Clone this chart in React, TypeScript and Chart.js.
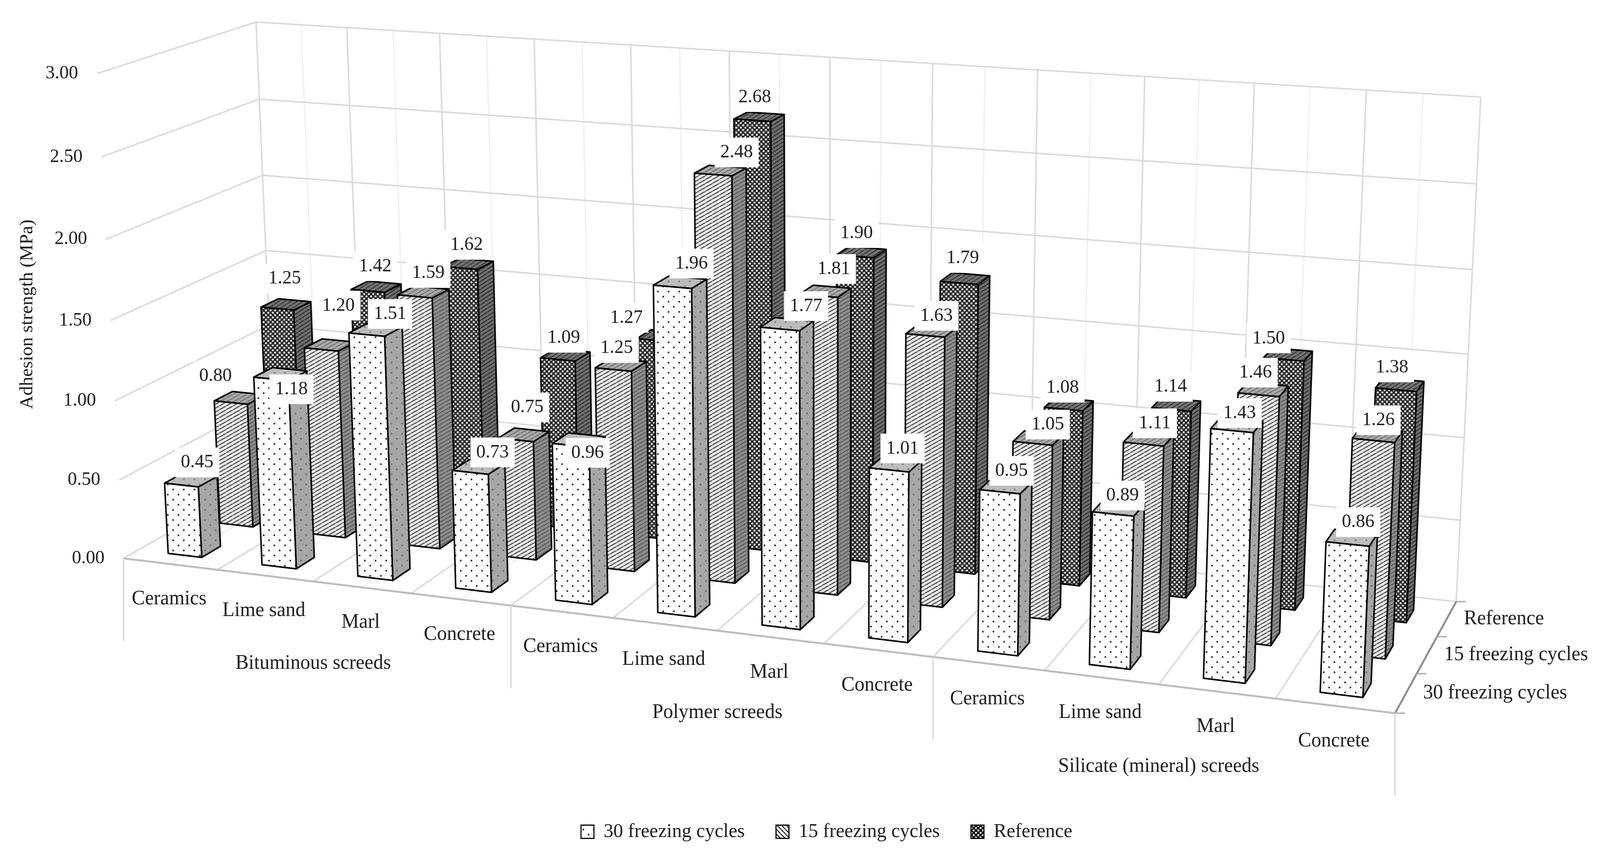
import React, { useEffect, useRef } from "react";
import { Chart, BarController, registerables } from "chart.js";

const materials = ["Ceramics", "Lime sand", "Marl", "Concrete"];
const groups = ["Bituminous screeds", "Polymer screeds", "Silicate (mineral) screeds"];
const seriesNames = ["30 freezing cycles", "15 freezing cycles", "Reference"];
const yTitle = "Adhesion strength (MPa)";
const cycles30 = [0.45, 1.18, 1.51, 0.73, 0.96, 1.96, 1.77, 1.01, 0.95, 0.89, 1.43, 0.86];
const cycles15 = [0.8, 1.2, 1.59, 0.75, 1.25, 2.48, 1.81, 1.63, 1.05, 1.11, 1.46, 1.26];
const reference = [1.25, 1.42, 1.62, 1.09, 1.27, 2.68, 1.9, 1.79, 1.08, 1.14, 1.5, 1.38];

const W = 4205, H = 2190;
const FONT = '"Liberation Serif"';
const INK = "#1c1c1c";

// label offsets from the top of each bar (the source chart's labels were hand-placed)
const nudge30 = [[10, 7], [23, 90], [32, 10], [31, 14], [18, 84], [25, 3], [45, 5], [14, 11], [11, 13], [7, 20], [4, 21], [14, 12]];
const nudge15 = [[-70, -5], [16, -50], [8, 2], [4, -19], [-16, 8], [38, 4], [18, -6], [9, 13], [21, 17], [13, 12], [-23, 8], [0, 14]];
const nudgeRef = [[-9, -16], [-8, -2], [-10, 2], [-9, 7], [-97, 5], [-16, 0], [-17, 2], [-10, -2], [-20, 9], [-18, 6], [-54, 10], [-23, 7]];

// camera fit: [u, d, v] on the unit box -> picture position
const fit: number[][] = [
  [0, 0, 0, 319, 1428], [0, 0, 1, 254, 190], [1, 0, 0, 3666, 1829], [0, 1, 1, 674, 57],
  [1, 1, 1, 3892, 250], [1, 1, 0, 3826, 1544], [0, 1, 0, 722, 1210], [0, 1, 0.5, 698, 639],
  [0, 0, 5 / 6, 265, 403], [1, 1, 5 / 6, 3879, 462], [1 / 12, 0, 0, 577, 1460], [2 / 12, 0, 0, 826, 1488],
  [3 / 12, 0, 0, 1081, 1518], [1 / 12, 1, 1, 913, 72], [11 / 12, 1, 1, 3592, 234],
];

function solveCamera(): number[] {
  const n = 11;
  const A = Array.from({ length: n }, () => new Array(n + 1).fill(0));
  const add = (row: number[], r: number) => {
    for (let i = 0; i < n; i++) {
      for (let j = 0; j < n; j++) A[i][j] += row[i] * row[j];
      A[i][n] += row[i] * r;
    }
  };
  for (const [u, d, v, px, py] of fit) {
    const x = px / 1000, y = py / 1000;
    add([u, d, v, 1, 0, 0, 0, 0, -x * u, -x * d, -x * v], x);
    add([0, 0, 0, 0, u, d, v, 1, -y * u, -y * d, -y * v], y);
  }
  for (let i = 0; i < n; i++) {
    let p = i;
    for (let r = i + 1; r < n; r++) if (Math.abs(A[r][i]) > Math.abs(A[p][i])) p = r;
    [A[i], A[p]] = [A[p], A[i]];
    for (let r = 0; r < n; r++) {
      if (r === i) continue;
      const f = A[r][i] / A[i][i];
      for (let c = i; c <= n; c++) A[r][c] -= f * A[i][c];
    }
  }
  return A.map((row, i) => row[n] / row[i]);
}
const M = solveCamera();
function proj(u: number, d: number, v: number): [number, number] {
  const w = M[8] * u + M[9] * d + M[10] * v + 1;
  return [
    (1000 * (M[0] * u + M[1] * d + M[2] * v + M[3])) / w,
    (1000 * (M[4] * u + M[5] * d + M[6] * v + M[7])) / w,
  ];
}

function tile(w: number, h: number, paint: (c: CanvasRenderingContext2D) => void): CanvasPattern {
  const cv = document.createElement("canvas");
  cv.width = w; cv.height = h;
  const c = cv.getContext("2d")!;
  paint(c);
  return c.createPattern(cv, "repeat")!;
}
function dots(bg: string, fg: string) {
  return tile(28, 26, (c) => {
    c.fillStyle = bg; c.fillRect(0, 0, 28, 26);
    c.fillStyle = fg;
    for (const [x, y] of [[7, 6], [21, 19]]) { c.beginPath(); c.arc(x, y, 2.4, 0, 7); c.fill(); }
  });
}
function hatch(bg: string, fg: string, w: number, h: number, lw: number, back = false) {
  return tile(w, h, (c) => {
    c.fillStyle = bg; c.fillRect(0, 0, w, h);
    c.strokeStyle = fg; c.lineWidth = lw;
    for (const ox of [-w, 0, w]) {
      c.beginPath();
      if (back) { c.moveTo(ox, 0); c.lineTo(ox + w, h); } else { c.moveTo(ox, h); c.lineTo(ox + w, 0); }
      c.stroke();
    }
  });
}
function checks(bg: string, fg: string) {
  return tile(12, 12, (c) => {
    c.fillStyle = bg; c.fillRect(0, 0, 12, 12);
    c.fillStyle = fg;
    for (const [x, y] of [[3, 3], [9, 9]]) { c.beginPath(); c.arc(x, y, 2.6, 0, 7); c.fill(); }
  });
}

class Bar3DController extends BarController {
  static id = "bar3d";
  static defaults = BarController.defaults;
  static overrides = BarController.overrides;
  draw() {
    const chart: any = this.chart;
    const meta: any = this.getMeta();
    const ds: any = this.getDataset();
    const area = chart.chartArea;
    const z = chart.scales.z;
    const c: CanvasRenderingContext2D = chart.ctx;
    const dc = (z.getPixelForValue(ds.label) - z.left) / z.width;
    const d0 = dc - 0.075, d1 = dc + 0.045;
    c.save();
    c.lineWidth = 4; c.lineJoin = "round"; c.strokeStyle = "#000";
    for (const el of meta.data) {
      const u0 = (el.x - el.width / 2 - area.left) / area.width;
      const u1 = (el.x + el.width / 2 - area.left) / area.width;
      const v = (area.bottom - el.y) / area.height;
      const face = (pts: [number, number][], fill: any) => {
        c.beginPath();
        pts.forEach((p, i) => (i ? c.lineTo(p[0], p[1]) : c.moveTo(p[0], p[1])));
        c.closePath();
        c.fillStyle = fill; c.fill(); c.stroke();
      };
      face([proj(u1, d0, 0), proj(u1, d1, 0), proj(u1, d1, v), proj(u1, d0, v)], ds.sideFill);
      face([proj(u0, d0, v), proj(u1, d0, v), proj(u1, d1, v), proj(u0, d1, v)], ds.topFill);
      face([proj(u0, d0, 0), proj(u1, d0, 0), proj(u1, d0, v), proj(u0, d0, v)], ds.backgroundColor);
    }
    c.restore();
  }
}
Chart.register(...registerables, Bar3DController as any);

const line = (c: CanvasRenderingContext2D, a: [number, number], b: [number, number], col: string, lw: number) => {
  c.strokeStyle = col; c.lineWidth = lw;
  c.beginPath(); c.moveTo(a[0], a[1]); c.lineTo(b[0], b[1]); c.stroke();
};

const box3dPlugin = {
  id: "box3d",
  beforeDraw(chart: any) {
    const c = chart.ctx;
    c.fillStyle = "#fff"; c.fillRect(0, 0, W, H);
  },
  beforeDatasetsDraw(chart: any) {
    const c: CanvasRenderingContext2D = chart.ctx;
    const y = chart.scales.y, n = chart.data.labels.length;
    const GRID = "#dadada", SOFT = "#efefef";
    c.save();
    for (let i = 0; i <= 2 * n; i++) {
      const u = i / (2 * n), major = i % 2 === 0;
      line(c, proj(u, 1, 0), proj(u, 1, 1), major ? GRID : SOFT, major ? 4 : 3);
      line(c, proj(u, 0, 0), proj(u, 1, 0), major ? GRID : SOFT, major ? 4 : 3);
    }
    for (const t of y.ticks) {
      const v = (chart.chartArea.bottom - y.getPixelForValue(t.value)) / chart.chartArea.height;
      line(c, proj(0, 0, v), proj(0, 1, v), GRID, 4);
      line(c, proj(0, 1, v), proj(1, 1, v), GRID, 4);
    }
    line(c, proj(0, 0, 0), proj(1, 0, 0), "#bdbdbd", 5);
    line(c, proj(1, 0, 0), proj(1, 1, 0), "#8c8c8c", 5);
    for (let k = 0; k <= 3; k++) {
      const p = proj(1, k / 3, 0);
      line(c, p, [p[0] + 26, p[1]], "#b5b5b5", 4);
    }
    for (let g = 0; g <= groups.length; g++) {
      const p = proj(g / groups.length, 0, 0);
      line(c, p, [p[0], p[1] + 212], GRID, 4);
    }
    c.restore();
  },
  afterDatasetsDraw(chart: any) {
    const c: CanvasRenderingContext2D = chart.ctx;
    const area = chart.chartArea, y = chart.scales.y, z = chart.scales.z, n = chart.data.labels.length;
    c.save();
    const queue: { x: number; y: number; t: string }[] = [];
    for (let i = chart.data.datasets.length - 1; i >= 0; i--) {
      const meta = chart.getDatasetMeta(i), ds = chart.data.datasets[i];
      const dc = (z.getPixelForValue(ds.label) - z.left) / z.width;
      meta.data.forEach((el: any, j: number) => {
        const u = (el.x - area.left) / area.width;
        const v = (area.bottom - el.y) / area.height;
        const p = proj(u, dc, v);
        const nudge = ds.labelNudge[j];
        queue.push({ x: p[0] + nudge[0], y: p[1] - 48 + nudge[1], t: ds.data[j].toFixed(2) });
      });
    }
    c.fillStyle = "#fff";
    for (const q of queue) c.fillRect(q.x - 58, q.y - 38, 116, 76);
    c.textBaseline = "middle"; c.textAlign = "center"; c.fillStyle = INK;
    c.font = `49px ${FONT}`;
    for (const q of queue) c.fillText(q.t, q.x, q.y);
    // value axis
    c.textAlign = "right";
    for (const t of y.ticks) {
      const v = (area.bottom - y.getPixelForValue(t.value)) / area.height;
      const p = proj(0, 0, v);
      c.fillText(t.value.toFixed(2), p[0] - 50, p[1]);
    }
    c.font = `52px ${FONT}`;
    // category labels
    c.textAlign = "center";
    for (let i = 0; i < n; i++) {
      const p = proj((i + 0.5) / n, 0, 0);
      c.fillText(chart.data.labels[i], p[0] - 3, p[1] + 90);
    }
    groups.forEach((g, i) => {
      const p = proj((i + 0.5) / groups.length, 0, 0);
      c.fillText(g, p[0], p[1] + 210);
    });
    // depth labels
    c.textAlign = "left";
    for (const name of z.getLabels()) {
      const p = proj(1, (z.getPixelForValue(name) - z.left) / z.width, 0);
      c.fillText(name, p[0] + 45, p[1]);
    }
    // value axis title
    c.translate(72, 805); c.rotate(-Math.PI / 2);
    c.textAlign = "center";
    c.font = `48px ${FONT}`;
    c.fillText(yTitle, 0, 0);
    c.restore();
  },
};

export default function App() {
  const ref = useRef<HTMLCanvasElement>(null);
  useEffect(() => {
    document.body.style.margin = "0";
    const labels = groups.flatMap(() => materials);
    const legendFill = [
      dots("#fff", "#333"),
      hatch("#fff", "#111", 12, 12, 2.5, true),
      checks("#111", "#fff"),
    ];
    const common = { grouped: false, barPercentage: 0.36, categoryPercentage: 1, clip: false, borderColor: "#000", borderWidth: 3 };
    const chart = new Chart(ref.current!, {
      type: "bar3d" as any,
      data: {
        labels,
        datasets: [
          { ...common, label: seriesNames[0], data: cycles30, labelNudge: nudge30, backgroundColor: dots("#fff", "#333"), sideFill: dots("#a6a6a6", "#6e6e6e"), topFill: dots("#bcbcbc", "#7a7a7a") },
          { ...common, label: seriesNames[1], data: cycles15, labelNudge: nudge15, backgroundColor: hatch("#ececec", "#555555", 18, 10, 3), sideFill: hatch("#8e8e8e", "#5e5e5e", 18, 10, 3), topFill: hatch("#ababab", "#747474", 18, 10, 3) },
          { ...common, label: seriesNames[2], data: reference, labelNudge: nudgeRef, backgroundColor: checks("#2c2c2c", "#eeeeee"), sideFill: hatch("#707070", "#333333", 16, 10, 3), topFill: hatch("#747474", "#3c3c3c", 16, 10, 3) },
        ] as any,
      },
      options: {
        responsive: false,
        devicePixelRatio: 1,
        animation: false,
        events: [],
        layout: { padding: { left: 140, bottom: 24 } },
        scales: {
          x: { type: "category", display: false, offset: true },
          y: { type: "linear", display: false, min: 0, max: 3, ticks: { stepSize: 0.5 } },
          z: { type: "category", axis: "x", display: false, offset: true, labels: seriesNames },
        } as any,
        plugins: {
          legend: {
            position: "bottom",
            labels: {
              boxWidth: 34, boxHeight: 34, padding: 82, color: INK,
              font: { family: FONT, size: 51 },
              generateLabels: (ch: any) =>
                Chart.defaults.plugins.legend.labels.generateLabels(ch).map((it: any, i: number) => ({ ...it, fillStyle: legendFill[i], strokeStyle: "#000", lineWidth: 3 })),
            },
          },
          tooltip: { enabled: false },
        },
      } as any,
      plugins: [box3dPlugin],
    });
    return () => chart.destroy();
  }, []);
  // the browser window tops out narrower than the 4205 px drawing, so the canvas is fitted to the window's width
  return <canvas ref={ref} width={W} height={H} style={{ display: "block", width: "100vw", height: H }} />;
}
